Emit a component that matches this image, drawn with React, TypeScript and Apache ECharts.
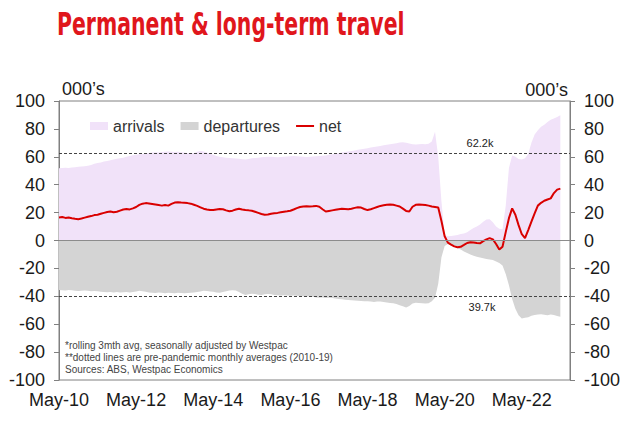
import React, { useEffect, useRef } from "react";
import * as echarts from "echarts";

// Month labels (category axis): May-10 .. Aug-23
const MONTH_NAMES = ["Jan", "Feb", "Mar", "Apr", "May", "Jun", "Jul", "Aug", "Sep", "Oct", "Nov", "Dec"];
const START_YEAR = 2010;
const START_MONTH = 4; // May
const CATEGORY_COUNT = 160;
const categories: string[] = [];
for (let i = 0; i < CATEGORY_COUNT; i++) {
  const m = (START_MONTH + i) % 12;
  const y = START_YEAR + Math.floor((START_MONTH + i) / 12);
  categories.push(`${MONTH_NAMES[m]}-${String(y % 100).padStart(2, "0")}`);
}

// Series values, 000's, monthly from May-10 to May-23
const arrivals = [
  51.8, 52.0, 52.2, 51.9, 52.3, 52.5, 52.8, 53.0, 53.2, 53.6, 54.2, 55.0,
  55.6, 56.0, 56.6, 57.0, 57.5, 58.0, 58.6, 59.0, 59.3, 60.0, 60.6, 61.2,
  61.5, 61.8, 62.0, 62.4, 62.8, 63.0, 63.2, 63.0, 63.4, 63.6, 63.8, 63.6,
  63.4, 63.6, 63.2, 63.0, 62.8, 62.6, 62.8, 63.6, 64.2, 63.8, 63.0, 62.2,
  61.4, 60.6, 60.0, 59.6, 59.4, 59.2, 59.0, 58.8, 58.6, 58.2, 58.0, 58.4,
  59.0, 59.2, 59.4, 59.6, 59.8, 60.0, 60.0, 59.8, 59.6, 59.8, 60.0, 60.2,
  60.4, 60.6, 60.4, 60.2, 60.0, 59.8, 60.0, 60.2, 60.4, 60.6, 60.8, 61.0,
  61.4, 61.8, 62.2, 62.6, 63.0, 63.4, 63.8, 64.2, 64.6, 65.0, 65.4, 65.8,
  66.2, 66.6, 67.0, 67.4, 67.8, 68.2, 68.6, 69.0, 69.4, 69.8, 70.2, 70.4,
  70.0, 69.6, 69.0, 68.8, 69.0, 69.2, 69.0, 69.4, 71.0, 78.0, 60.0, 28.0,
  4.0, 3.0, 3.2, 3.6, 4.0, 4.6, 5.0, 6.0, 7.5, 9.0, 10.0, 11.5,
  13.5, 15.0, 15.2, 13.0, 10.0, 8.5, 8.0, 25.0, 52.0, 61.0, 60.0, 58.5,
  58.0, 59.0, 62.0, 70.0, 76.0, 79.0, 81.5, 83.0, 85.0, 86.5, 87.5, 88.5, 89.8,
];

const departures = [
  -35.4, -35.6, -35.8, -35.5, -35.7, -36.0, -36.2, -36.0, -35.8, -36.1, -36.3, -36.2,
  -36.4, -36.8, -37.0, -37.1, -36.9, -37.2, -37.0, -37.3, -37.1, -36.9, -37.2, -37.0,
  -36.6, -36.0, -36.3, -36.8, -37.2, -37.4, -37.6, -37.3, -37.5, -37.8, -37.4, -37.6,
  -37.8, -37.5, -37.7, -37.9, -37.6, -37.4, -37.2, -37.0, -36.6, -36.0, -36.2, -36.5,
  -36.8, -37.2, -37.4, -37.0, -36.4, -35.8, -35.6, -35.9, -37.0, -38.2, -39.0, -38.6,
  -38.2, -38.4, -38.8, -39.0, -38.6, -38.4, -38.6, -39.0, -39.2, -39.4, -39.3, -39.5,
  -39.6, -39.4, -39.6, -39.8, -40.0, -40.2, -40.0, -40.4, -40.8, -41.0, -40.8, -41.2,
  -41.0, -41.3, -41.6, -41.9, -42.1, -42.4, -42.6, -42.8, -43.0, -43.2, -43.4, -43.5,
  -43.6, -43.8, -44.0, -43.8, -43.7, -44.0, -44.5, -44.8, -45.0, -45.6, -46.4, -47.2,
  -48.0, -47.0, -45.2, -44.6, -44.8, -45.0, -45.2, -45.0, -43.5, -41.0, -31.0, -12.0,
  -4.0, -2.5, -3.5, -4.5, -5.5, -6.5, -7.8, -9.0, -10.0, -11.0, -11.6, -12.2,
  -12.8, -13.2, -13.6, -14.0, -15.0, -16.2, -18.0, -24.0, -32.0, -42.0, -49.0, -53.5,
  -56.0, -55.4, -55.0, -54.0, -53.4, -53.0, -52.8, -53.2, -53.6, -53.0, -53.4, -54.2, -54.6,
];

const net = [
  16.5, 16.8, 16.2, 16.5, 16.0, 15.6, 15.3, 15.8, 16.4, 17.0, 17.5, 18.2,
  18.5, 19.2, 19.8, 20.4, 20.8, 20.2, 20.6, 21.4, 22.2, 22.6, 22.3, 23.0,
  24.0, 25.5, 26.4, 26.8, 26.6, 26.2, 25.8, 25.4, 25.0, 25.4, 25.0, 26.2,
  27.2, 27.5, 27.2, 27.0, 26.8, 26.4, 25.6, 24.8, 23.8, 22.8, 22.2, 21.8,
  21.8, 22.2, 22.6, 22.4, 21.6, 21.0, 21.4, 22.2, 22.8, 22.2, 21.8, 21.6,
  21.3, 20.6, 19.8, 19.0, 18.4, 18.6, 19.2, 19.6, 19.8, 20.2, 20.6, 20.9,
  21.3, 22.2, 23.2, 24.0, 24.4, 24.6, 24.3, 24.5, 24.8, 24.2, 22.4, 20.8,
  21.2, 21.6, 22.0, 22.4, 22.8, 22.6, 22.4, 22.8, 23.4, 23.9, 23.6, 22.6,
  21.8, 22.4, 23.2, 24.0, 24.8, 25.2, 25.6, 25.8, 25.6, 25.0, 24.4, 22.8,
  21.2, 20.8, 24.2, 25.6, 25.8, 25.6, 25.4, 25.0, 24.4, 24.0, 23.6, 14.0,
  3.0, -1.5, -3.0, -4.2, -4.8, -4.5, -3.2, -1.8, -1.2, -1.4, -1.8, -2.0,
  -0.5, 0.8, 1.7, 0.8, -2.5, -6.5, -4.5, 6.0, 16.0, 23.0, 18.5, 11.0,
  4.5, 1.7, 7.5, 13.5, 19.5, 25.0, 27.0, 28.5, 29.4, 30.2, 34.0, 36.5, 37.2,
];

// Pre-pandemic monthly averages (2010-19)
const avgArrivals = 62.2;
const avgDepartures = -39.7;

const TITLE = "Permanent & long-term travel";
const NOTES = [
  "*rolling 3mth avg, seasonally adjusted by Westpac",
  "**dotted lines are pre-pandemic monthly averages (2010-19)",
  "Sources: ABS, Westpac Economics",
];

const FONT = "'Liberation Sans', Arial, sans-serif";
const AXIS_COLOR = "#808080";
const ARRIVALS_COLOR = "#f1e2f9";
const DEPARTURES_COLOR = "#d4d4d4";
const NET_COLOR = "#d90000";

export default function App() {
  const ref = useRef<HTMLDivElement>(null);

  useEffect(() => {
    if (!ref.current) return;
    const chart = echarts.init(ref.current, undefined, { renderer: "svg" });

    const yAxisBase = {
      type: "value" as const,
      min: -100,
      max: 100,
      interval: 20,
      axisLine: { show: true, lineStyle: { color: AXIS_COLOR, width: 1 } },
      axisTick: { show: true, length: 5, lineStyle: { color: AXIS_COLOR } },
      splitLine: { show: false },
      axisLabel: { fontSize: 18, color: "#1a1a1a", fontFamily: FONT, margin: 14 },
    };

    chart.setOption({
      animation: false,
      textStyle: { fontFamily: FONT },
      grid: {
        left: 59,
        right: 70,
        top: 101,
        bottom: 55,
        show: true,
        borderColor: AXIS_COLOR,
        borderWidth: 1,
        backgroundColor: "transparent",
      },
      legend: {
        left: 90,
        top: 118,
        padding: 0,
        itemWidth: 18,
        itemHeight: 8,
        itemGap: 16,
        textStyle: { fontSize: 16, color: "#333", fontFamily: FONT },
        data: [
          { name: "arrivals", icon: "rect", itemStyle: { color: ARRIVALS_COLOR } },
          { name: "departures", icon: "rect", itemStyle: { color: DEPARTURES_COLOR } },
          { name: "net", icon: "path://M0,0H18V2H0Z", itemStyle: { color: NET_COLOR } },
        ],
      },
      xAxis: {
        type: "category",
        data: categories,
        boundaryGap: false,
        axisLine: { show: true, lineStyle: { color: AXIS_COLOR, width: 1 } },
        axisTick: { show: true, interval: 23, length: 5, lineStyle: { color: AXIS_COLOR } },
        axisLabel: { interval: 23, fontSize: 18, color: "#1a1a1a", fontFamily: FONT, margin: 11 },
        splitLine: { show: false },
      },
      yAxis: [
        { ...yAxisBase, position: "left" },
        { ...yAxisBase, position: "right" },
      ],
      series: [
        {
          name: "arrivals",
          type: "line",
          data: arrivals,
          symbol: "none",
          z: 1,
          lineStyle: { width: 0, color: ARRIVALS_COLOR },
          itemStyle: { color: ARRIVALS_COLOR },
          areaStyle: { color: ARRIVALS_COLOR, opacity: 1, origin: 0 },
        },
        {
          name: "departures",
          type: "line",
          data: departures,
          symbol: "none",
          z: 2,
          lineStyle: { width: 0, color: DEPARTURES_COLOR },
          itemStyle: { color: DEPARTURES_COLOR },
          areaStyle: { color: DEPARTURES_COLOR, opacity: 1, origin: 0 },
          markLine: {
            silent: true,
            symbol: "none",
            label: { show: false },
            data: [
              { yAxis: 0, lineStyle: { color: "#8c8c8c", type: "solid", width: 1 } },
              { yAxis: avgArrivals, lineStyle: { color: "#444", type: [3, 2], width: 1 } },
              { yAxis: avgDepartures, lineStyle: { color: "#444", type: [3, 2], width: 1 } },
            ],
          },
        },
        {
          name: "net",
          type: "line",
          data: net,
          symbol: "none",
          z: 3,
          lineStyle: { width: 2, color: NET_COLOR },
          itemStyle: { color: NET_COLOR },
        },
      ],
      graphic: [
        {
          type: "text",
          x: 57,
          y: 8,
          scaleX: 0.71,
          style: {
            text: TITLE,
            fill: "#e0161c",
            font: "bold 32px 'DejaVu Sans Condensed', 'DejaVu Sans', sans-serif",
            textVerticalAlign: "top",
          },
        },
        {
          type: "text",
          left: 62,
          top: 80,
          style: { text: "000’s", fill: "#1a1a1a", font: `18px ${FONT}` },
        },
        {
          type: "text",
          right: 72,
          top: 81,
          style: { text: "000’s", fill: "#1a1a1a", font: `18px ${FONT}` },
        },
        {
          type: "text",
          x: 480,
          y: 143,
          style: {
            text: `${avgArrivals}k`,
            fill: "#222",
            font: `11px ${FONT}`,
            textAlign: "center",
            textVerticalAlign: "middle",
          },
        },
        {
          type: "text",
          x: 482,
          y: 307,
          style: {
            text: `${Math.abs(avgDepartures)}k`,
            fill: "#222",
            font: `11px ${FONT}`,
            textAlign: "center",
            textVerticalAlign: "middle",
          },
        },
        {
          type: "text",
          x: 65,
          y: 339,
          style: {
            text: NOTES.join("\n"),
            fill: "#444",
            font: `10px ${FONT}`,
            lineHeight: 12,
            textVerticalAlign: "top",
          },
        },
      ],
    });

    return () => chart.dispose();
  }, []);

  return (
    <div
      ref={ref}
      style={{ position: "fixed", left: 0, top: 0, width: 640, height: 435, background: "#fff" }}
    />
  );
}
